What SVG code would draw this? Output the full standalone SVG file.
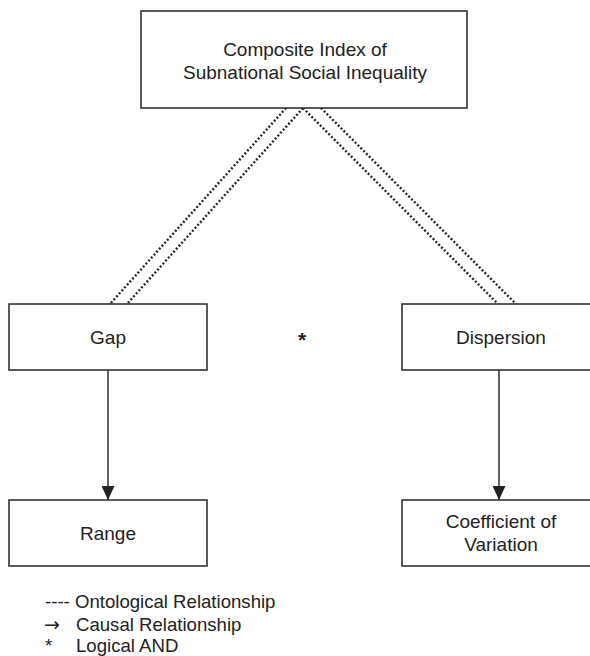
<svg xmlns="http://www.w3.org/2000/svg" width="590" height="656" viewBox="0 0 590 656">
  <defs>
    <style>
      .box { fill: #ffffff; stroke: #333333; stroke-width: 1.6; }
      .lbl { font-family: "Liberation Sans", Arial, sans-serif; font-size: 19px; fill: #222222; text-anchor: middle; }
      .star { font-family: "Liberation Sans", Arial, sans-serif; font-size: 21px; font-weight: bold; fill: #222222; text-anchor: middle; }
      .leg { font-family: "Liberation Sans", Arial, sans-serif; font-size: 18.6px; fill: #222222; }
      .arr { font-family: "DejaVu Sans", sans-serif; font-size: 19px; fill: #222222; }
      .onto { fill: none; stroke: #2a2a2a; stroke-width: 2.4; stroke-dasharray: 2 2; }
      .causal { fill: none; stroke: #222222; stroke-width: 1.4; }
    </style>
    <marker id="arrow" markerUnits="userSpaceOnUse" markerWidth="14" markerHeight="13" refX="14" refY="6.5" orient="auto">
      <path d="M0,0 L14,6.5 L0,13 Z" fill="#222222"/>
    </marker>
  </defs>
  <rect width="590" height="656" fill="#ffffff"/>

  <g id="connectors">
    <line class="onto" x1="286" y1="108" x2="110" y2="304"/>
    <line class="onto" x1="303" y1="108" x2="127" y2="304"/>
    <line class="onto" x1="303" y1="108" x2="498" y2="304"/>
    <line class="onto" x1="321" y1="108" x2="516" y2="304"/>
    <line class="causal" x1="108" y1="370" x2="108" y2="500" marker-end="url(#arrow)"/>
    <line class="causal" x1="499" y1="370" x2="499" y2="500" marker-end="url(#arrow)"/>
  </g>

  <g id="composite">
    <rect class="box" x="141" y="11" width="326" height="97"/>
    <text class="lbl" x="305" y="56">Composite Index of</text>
    <text class="lbl" x="305" y="79">Subnational Social Inequality</text>
  </g>

  <g id="gap">
    <rect class="box" x="9" y="304" width="198" height="66"/>
    <text class="lbl" x="108" y="344">Gap</text>
  </g>

  <g id="dispersion">
    <rect class="box" x="402" y="304" width="198" height="66"/>
    <text class="lbl" x="501" y="344">Dispersion</text>
  </g>

  <g id="and">
    <text class="star" x="302" y="347">*</text>
  </g>

  <g id="range">
    <rect class="box" x="9" y="500" width="198" height="66"/>
    <text class="lbl" x="108" y="540">Range</text>
  </g>

  <g id="coefficient">
    <rect class="box" x="402" y="500" width="198" height="66"/>
    <text class="lbl" x="501" y="528">Coefficient of</text>
    <text class="lbl" x="501" y="551">Variation</text>
  </g>

  <g id="legend">
    <text class="leg" x="45" y="608">---- Ontological Relationship</text>
    <text class="leg" y="630.5"><tspan class="arr" x="44">→</tspan><tspan x="76">Causal Relationship</tspan></text>
    <text class="leg" y="652"><tspan x="45">*</tspan><tspan x="76">Logical AND</tspan></text>
  </g>
</svg>
